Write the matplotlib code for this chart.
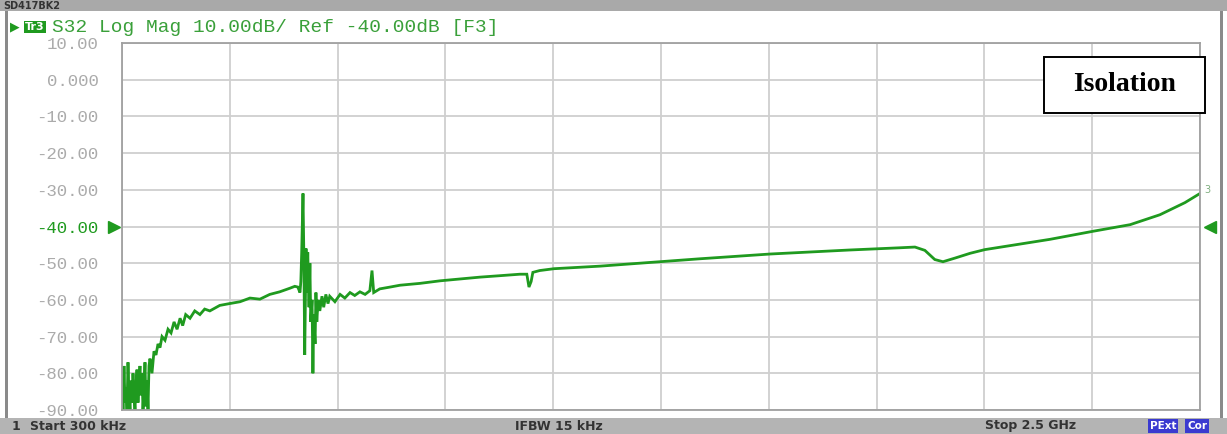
import matplotlib
matplotlib.use("Agg")
import matplotlib.pyplot as plt
from matplotlib.patches import Rectangle

# S32 trace, frequency in MHz, magnitude in dB
freq_mhz = [0.3, 2.6, 4.9, 7.3, 9.6, 11.9, 14.2, 16.5, 18.8, 21.2, 23.5, 25.8, 28.1,
            30.4, 32.8, 35.1, 37.4, 39.7, 42.0, 44.3, 46.7, 49.0, 51.3, 53.6, 55.9,
            58.3, 60.6, 62.9, 65.2, 69.8, 74.5, 79.1, 83.8, 88.4, 93.1, 100, 107,
            114, 121, 128, 135, 141, 148, 158, 169, 181, 192, 204, 227, 250, 274,
            297, 320, 343, 366, 390, 401, 408, 413, 415, 417, 420, 422, 424, 427,
            429, 431, 434, 436, 438, 441, 443, 445, 448, 450, 452, 455, 459, 464,
            468, 473, 478, 482, 494, 506, 517, 529, 540, 552, 564, 575, 580, 584,
            598, 622, 645, 691, 738, 784, 830, 877, 923, 939, 944, 949, 953, 969,
            1002, 1109, 1224, 1340, 1503, 1688, 1804, 1839, 1862, 1885, 1904, 1932,
            1967, 2001, 2152, 2252, 2338, 2407, 2465, 2500]
s32_db = [-80, -90, -78, -88, -84, -90, -77, -86, -90, -82, -88, -80, -86,
          -90, -83, -79, -88, -82, -78, -86, -80, -90, -84, -77, -89,
          -82, -90, -78, -76, -80, -74, -75, -72, -73, -70, -71, -68,
          -69, -66, -68, -65, -67, -64, -65, -63, -64, -62.5, -63, -61.5, -61, -60.5,
          -59.5, -59.8, -58.5, -57.8, -56.8, -56.3, -56.5, -58, -55, -47, -31, -48,
          -75, -46, -58, -47, -62, -50, -66, -60, -80, -64, -72, -58, -66, -60, -63, -59,
          -62, -58.5, -61, -59, -60.5, -58.5, -59.5, -58, -58.8, -57.8, -58.5, -57.5, -52, -58,
          -57, -56.5, -56, -55.5, -54.8, -54.3, -53.8, -53.4, -53, -53, -56.5, -55, -52.5, -52,
          -51.5, -50.8, -49.8, -48.8, -47.5, -46.4, -45.8, -45.6, -46.5, -49, -49.6, -48.6,
          -47.3, -46.3, -43.5, -41.3, -39.5, -36.8, -33.5, -31]

y_ticks = [10, 0, -10, -20, -30, -40, -50, -60, -70, -80, -90]
y_labels = ["10.00", "0.000", "-10.00", "-20.00", "-30.00", "-40.00",
            "-50.00", "-60.00", "-70.00", "-80.00", "-90.00"]
f_start, f_stop = 0.3, 2500.0
ref_level = -40

green = "#1f9a1f"
W, H = 1227, 434
fig = plt.figure(figsize=(W / 100, H / 100), dpi=100)
fig.patch.set_facecolor("white")

# window chrome
fig.add_artist(Rectangle((0, 1 - 11 / H), 1, 11 / H, transform=fig.transFigure,
                         facecolor="#a9a9a9", edgecolor="none"))
fig.add_artist(Rectangle((0, 0), 1, 16 / H, transform=fig.transFigure,
                         facecolor="#b4b4b4", edgecolor="none"))
fig.add_artist(Rectangle((5 / W, 16 / H), 3 / W, (H - 27) / H, transform=fig.transFigure,
                         facecolor="#8a8a8a", edgecolor="none"))
fig.add_artist(Rectangle((1220 / W, 16 / H), 3 / W, (H - 27) / H, transform=fig.transFigure,
                         facecolor="#8a8a8a", edgecolor="none"))
fig.text(3 / W, 1 - 6 / H, "SD417BK2", fontsize=7, color="#333333", va="center",
         family="DejaVu Sans", weight="bold")

# trace header
fig.text(10 / W, 1 - 27 / H, "\u25b6", fontsize=9, color=green, va="center")
fig.text(25 / W, 1 - 27 / H, "Tr3", fontsize=8, color="white", va="center",
         family="DejaVu Sans", weight="bold",
         bbox=dict(boxstyle="square,pad=0.1", facecolor=green, edgecolor="none"))
fig.text(52 / W, 1 - 27 / H, "S32 Log Mag 10.00dB/ Ref -40.00dB [F3]",
         fontsize=14, color="#3aa03a", va="center", family="Liberation Mono")

# status bar
status_kw = dict(fontsize=9, color="#333333", va="center", family="DejaVu Sans",
                 weight="bold")
fig.text(12 / W, 8 / H, "1", **status_kw)
fig.text(30 / W, 8 / H, "Start 300 kHz", **status_kw)
fig.text(515 / W, 8 / H, "IFBW 15 kHz", **status_kw)
fig.text(985 / W, 8 / H, "Stop 2.5 GHz", **status_kw)
fig.text(1150 / W, 8 / H, "PExt", fontsize=7.5, color="white", va="center",
         family="DejaVu Sans", weight="bold",
         bbox=dict(boxstyle="square,pad=0.15", facecolor="#3a3ad0", edgecolor="none"))
fig.text(1187 / W, 8 / H, "Cor", fontsize=7.5, color="white", va="center",
         family="DejaVu Sans", weight="bold",
         bbox=dict(boxstyle="square,pad=0.15", facecolor="#3a3ad0", edgecolor="none"))

ax = fig.add_axes([122 / W, 24 / H, 1078 / W, 367 / H])
ax.plot(freq_mhz, s32_db, color=green, lw=2.0, solid_joinstyle="miter")
ax.set_xlim(f_start, f_stop)
ax.set_ylim(-90, 10)

xt = [f_start + i * (f_stop - f_start) / 10 for i in range(11)]
ax.set_xticks(xt)
ax.set_xticklabels([])
ax.set_yticks(y_ticks)
ax.set_yticklabels(y_labels, family="Liberation Mono", fontsize=12.5, color="#ababab")
for lab, v in zip(ax.get_yticklabels(), y_ticks):
    if v == ref_level:
        lab.set_color(green)
ax.tick_params(length=0, pad=17)
ax.grid(True, color="#cfcfcf", lw=1.3)
for s in ax.spines.values():
    s.set_color("#a0a0a0")
    s.set_linewidth(1.3)

# reference level markers
yt = ax.get_yaxis_transform()
ax.plot([-0.0074], [ref_level], marker=">", ms=9, color=green, transform=yt, clip_on=False)
ax.plot([1.0093], [ref_level], marker="<", ms=9, color=green, transform=yt, clip_on=False)
ax.text(1.004, s32_db[-1] + 1, "3", transform=yt, fontsize=7, color="#7fae7f",
        va="center", ha="left")

# label box
ax.add_patch(Rectangle((0.855, 0.809), 0.1495, 0.153, transform=ax.transAxes,
                       facecolor="white", edgecolor="black", lw=1.4, clip_on=False,
                       zorder=5))
ax.text(0.9298, 0.886, "Isolation", transform=ax.transAxes, ha="center", va="center",
        fontsize=20, weight="bold", family="Liberation Serif", color="black", zorder=6)

fig.savefig("out.png", dpi=100, facecolor="white")
